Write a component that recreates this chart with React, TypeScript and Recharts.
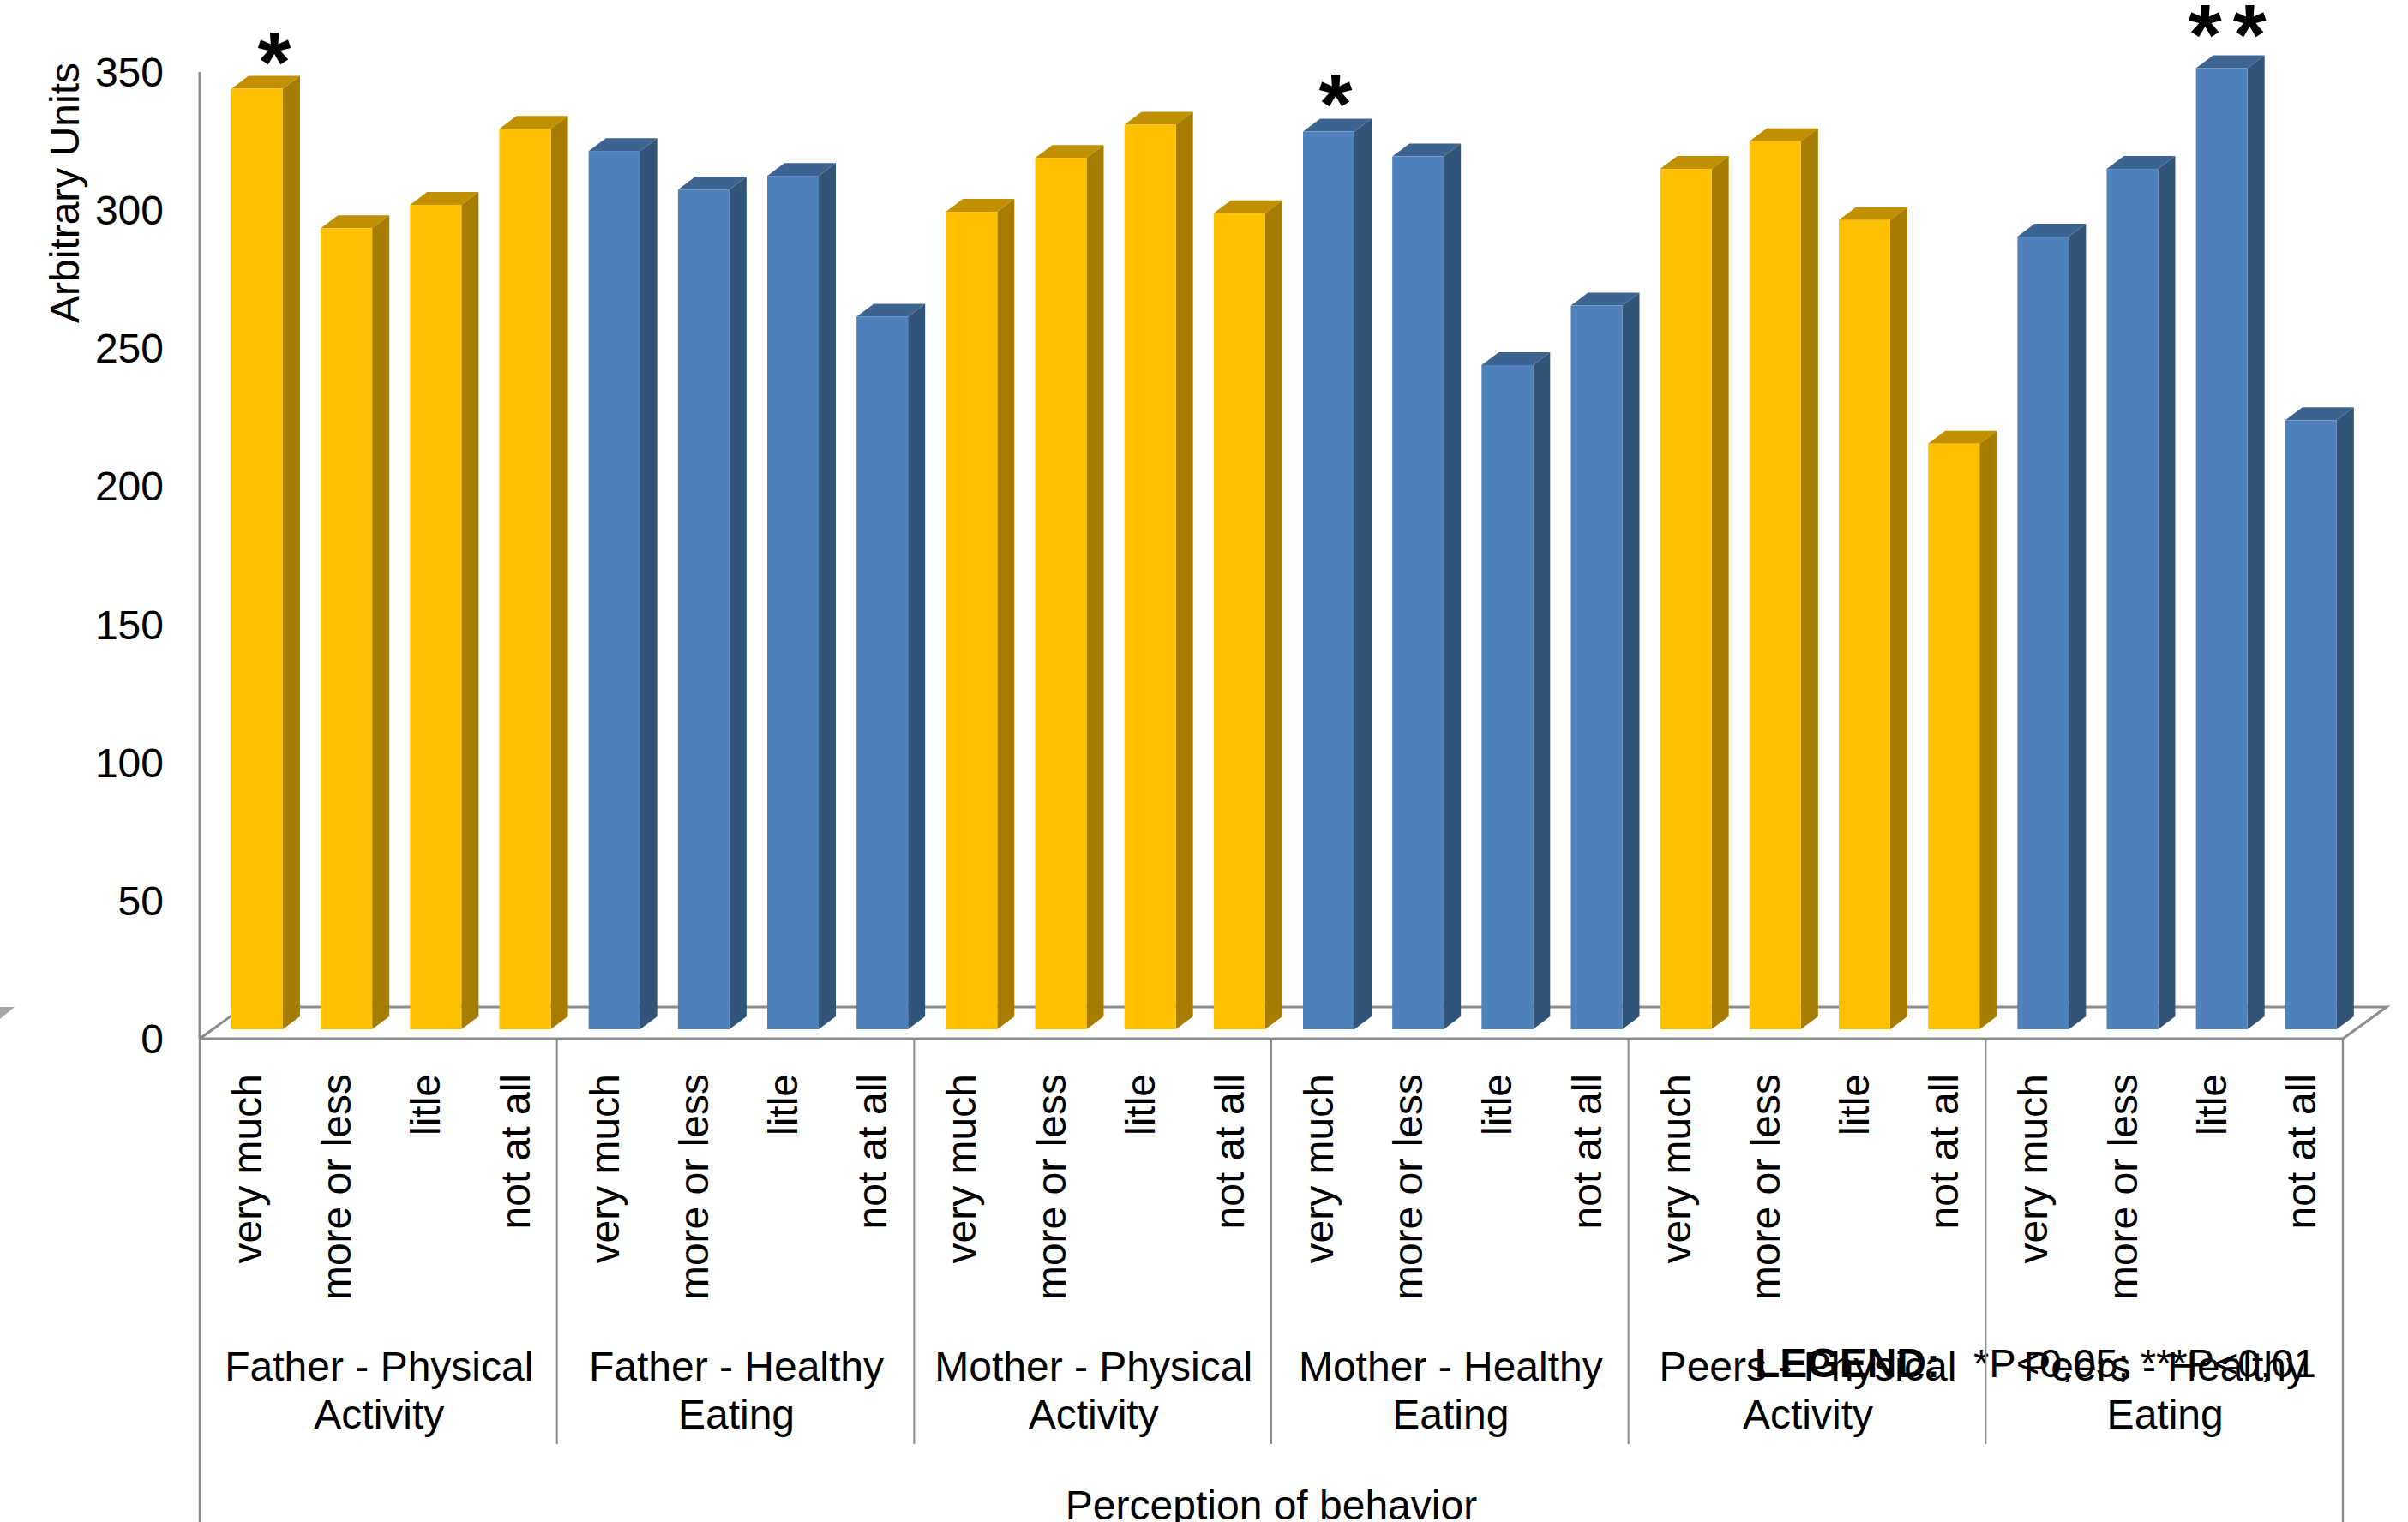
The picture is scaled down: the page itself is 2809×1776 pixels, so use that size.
import React from 'react';
import { BarChart, Bar, XAxis, YAxis, usePlotArea } from 'recharts';

const levels = ['very much', 'more or less', 'litle', 'not at all'];
const groupLines = [
  ['Father - Physical', 'Activity'],
  ['Father - Healthy', 'Eating'],
  ['Mother - Physical', 'Activity'],
  ['Mother - Healthy', 'Eating'],
  ['Peers - Physical', 'Activity'],
  ['Peers - Healthy', 'Eating'],
];
const fatherPhysical = [340.5, 290, 298.5, 326];
const fatherHealthy = [318, 304, 309, 258];
const motherPhysical = [296, 315.5, 327.5, 295.5];
const motherHealthy = [325, 316, 240.5, 262];
const peersPhysical = [311.5, 321.5, 293, 212];
const peersHealthy = [287, 311.5, 348, 220.5];
const groupValues = [fatherPhysical, fatherHealthy, motherPhysical, motherHealthy, peersPhysical, peersHealthy];
const yTicks = [0, 50, 100, 150, 200, 250, 300, 350];
const stars: Record<string, { t: string; dx: number; dy: number; ls: number }> = {
  'g0-0': { t: '*', dx: 20, dy: 3, ls: 0 },
  'g3-0': { t: '*', dx: 8, dy: 2, ls: 0 },
  'g5-2': { t: '**', dx: 13, dy: -4, ls: 13 },
};

const rows = groupValues.flatMap((vals, g) =>
  vals.map((value, l) => ({ id: `g${g}-${l}`, level: levels[l], g, l, value, star: stars[`g${g}-${l}`] }))
);

const FONT = '"Liberation Sans", Arial, sans-serif';
const GRAY = '#8c8c8c';
const PAL = [
  { front: '#FFC000', side: '#A67D00', top: '#C09000' },
  { front: '#4F81BD', side: '#325479', top: '#3D6491' },
];
const DX = 20, DY = 15, LIFT = 11, SHIFT = 15;
const STEP = 2500 / 24;

function Bar3D(p: any) {
  const { x, y, width, height, payload } = p;
  const c = PAL[payload.g % 2];
  const X = x + SHIFT, Y = y - LIFT;
  const s = payload.star;
  return (
    <g>
      <polygon points={`${X + width},${Y} ${X + width + DX},${Y - DY} ${X + width + DX},${Y + height - DY} ${X + width},${Y + height}`} fill={c.side} />
      <polygon points={`${X},${Y} ${X + DX},${Y - DY} ${X + width + DX},${Y - DY} ${X + width},${Y}`} fill={c.top} />
      <rect x={X} y={Y} width={width} height={height} fill={c.front} />
      {s ? (
        <text x={X + width / 2 + s.dx} y={Y + s.dy} textAnchor="middle" fontFamily={FONT} fontWeight="bold" fontSize={100} fill="#000" letterSpacing={s.ls}>
          {s.t}
        </text>
      ) : null}
    </g>
  );
}

function LevelTick(p: any) {
  const { x, y, index } = p;
  const row = rows[index];
  if (!row) return null;
  const left = x - STEP / 2;
  return (
    <g>
      <text transform={`translate(${x + 20},${y + 41}) rotate(-90)`} textAnchor="end" fontFamily={FONT} fontSize={48} fill="#000">
        {row.level}
      </text>
      {row.l === 0 && row.g > 0 ? <line x1={left} x2={left} y1={y} y2={1685} stroke={GRAY} strokeWidth={2} /> : null}
      {row.l === 1
        ? groupLines[row.g].map((t, i) => (
            <text key={t} x={x + STEP / 2 + 1} y={1611 + i * 56} textAnchor="middle" fontFamily={FONT} fontSize={48} fill="#000">
              {t}
            </text>
          ))
        : null}
    </g>
  );
}

function Frame() {
  const a = usePlotArea();
  if (!a) return null;
  const L = a.x, R = a.x + a.width, B = a.y + a.height;
  return (
    <g>
      <polyline points={`${L},${B} ${L + 51},${B - 37} ${R + 51},${B - 37} ${R},${B}`} fill="none" stroke={GRAY} strokeWidth={3} />
      <polygon points="0,1175 17,1175 0,1189" fill="#a6a6a6" />
      <line x1={L} x2={L} y1={B} y2={1776} stroke={GRAY} strokeWidth={2.5} />
      <line x1={R} x2={R} y1={B} y2={1776} stroke={GRAY} strokeWidth={2.5} />
      <text transform="translate(92,225) rotate(-90)" textAnchor="middle" fontFamily={FONT} fontSize={48} fill="#000">Arbitrary Units</text>
      <text x={(L + R) / 2} y={1773} textAnchor="middle" fontFamily={FONT} fontSize={48} fill="#000">Perception of behavior</text>
      <text x={2047} y={1607} fontFamily={FONT} fontSize={48} fontWeight="bold" fill="#000">LEGEND:</text>
      <text x={2302} y={1607} fontFamily={FONT} fontSize={47} fill="#000">*P&lt;0,05; ***P&lt;0,01</text>
    </g>
  );
}

export default function App() {
  return (
    <div style={{ position: 'absolute', left: 0, top: 0, width: 2809, height: 1776, background: '#fff', overflow: 'hidden' }}>
      <BarChart
        width={2809}
        height={1776}
        data={rows}
        margin={{ top: 84, right: 76, bottom: 0, left: 0 }}
        barSize={60}
        style={{ fontFamily: FONT }}
      >
        <Frame />
        <YAxis
          type="number"
          domain={[0, 350]}
          ticks={yTicks}
          width={233}
          interval={0}
          tickLine={false}
          tickMargin={36}
          tick={{ fontSize: 48, fill: '#000', fontFamily: FONT }}
          axisLine={{ stroke: GRAY, strokeWidth: 3 }}
        />
        <XAxis
          dataKey="id"
          type="category"
          height={564}
          interval={0}
          tickLine={false}
          tickSize={0}
          tickMargin={0}
          tick={<LevelTick />}
          axisLine={{ stroke: GRAY, strokeWidth: 3 }}
        />
        <Bar dataKey="value" isAnimationActive={false} shape={<Bar3D />} />
      </BarChart>
    </div>
  );
}
